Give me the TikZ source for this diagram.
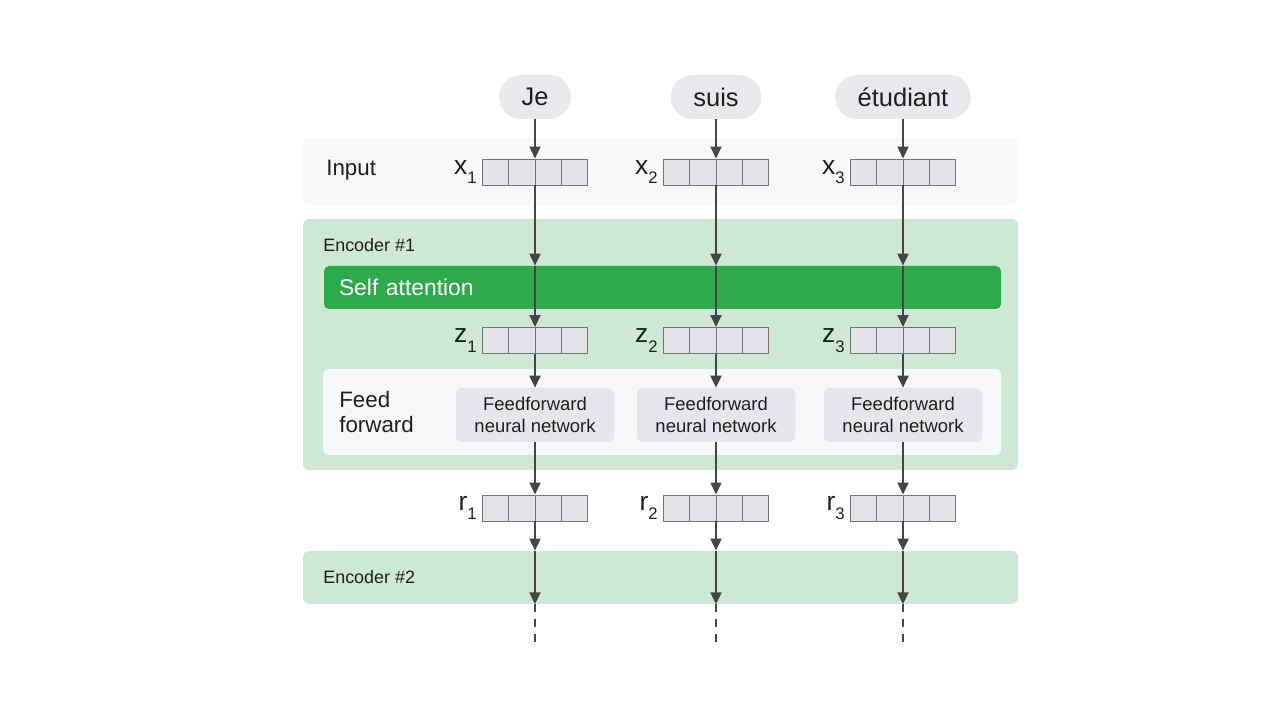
\documentclass[tikz,border=0pt]{standalone}
\usepackage{fontspec}
\setmainfont{Liberation Sans}
\usetikzlibrary{positioning,arrows.meta}

\definecolor{textdark}{HTML}{1F1F1F}
\definecolor{pillgray}{HTML}{E8E9ED}
\definecolor{inputgray}{HTML}{F8F8F9}
\definecolor{encgreen}{HTML}{CDE8D3}
\definecolor{attgreen}{HTML}{2EA94B}
\definecolor{panelwhite}{HTML}{F6F7F8}
\definecolor{ffngray}{HTML}{E5E6EA}
\definecolor{vecfill}{HTML}{E3E4E8}
\definecolor{vecline}{HTML}{747474}
\definecolor{arrowgray}{HTML}{454545}

\begin{document}
\begin{tikzpicture}[
    band/.style={rounded corners=0.12cm, minimum width=14.3cm, inner sep=0},
    pill/.style={fill=pillgray, rounded corners=0.44cm, minimum height=0.88cm,
        inner xsep=0.45cm, font=\fontsize{14.5}{17}\selectfont, text=textdark},
    vec/.style={draw=vecline, line width=0.55pt, fill=vecfill, minimum width=2.1cm,
        minimum height=0.52cm, inner sep=0,
        path picture={
            \draw[vecline, line width=0.55pt] ([xshift=-0.525cm]path picture bounding box.north)
                -- ([xshift=-0.525cm]path picture bounding box.south);
            \draw[vecline, line width=0.55pt] (path picture bounding box.north)
                -- (path picture bounding box.south);
            \draw[vecline, line width=0.55pt] ([xshift=0.525cm]path picture bounding box.north)
                -- ([xshift=0.525cm]path picture bounding box.south);
        }},
    veclabel/.style={font=\fontsize{15}{17}\selectfont, inner sep=0, text=textdark},
    sidelabel/.style={anchor=west, inner sep=0, align=left, text=textdark,
        font=\fontsize{12.7}{14.2}\selectfont},
    enclabel/.style={anchor=west, inner sep=0, text=textdark,
        font=\fontsize{10.2}{12}\selectfont},
    ffn/.style={fill=ffngray, rounded corners=0.12cm, minimum width=3.16cm,
        minimum height=1.08cm, align=center, text=textdark,
        font=\fontsize{10.5}{12.5}\selectfont},
    arr/.style={draw=arrowgray, line width=1.1pt, -{Triangle[length=2.4mm,width=2.2mm]}},
    dashline/.style={draw=arrowgray, line width=0.9pt, dash pattern=on 0.16cm off 0.14cm},
]
    \useasboundingbox (0,0) rectangle (25.6,14.4);

    % background bands
    \node[band, fill=inputgray, minimum height=1.34cm] (inputband) at (13.21, 10.97) {};
    \node[band, fill=encgreen, minimum height=5.02cm] (enc1) at (13.21, 7.51) {};
    \node[band, fill=encgreen, minimum height=1.06cm] (enc2) at (13.21, 2.85) {};

    \node[sidelabel] (inputlbl) at (6.52, 10.99) {Input};
    \node[enclabel] (enc1lbl) at (6.46, 9.50) {Encoder \#1};
    \node[enclabel] (enc2lbl) at (6.46, 2.86) {Encoder \#2};

    % self attention bar
    \node[fill=attgreen, rounded corners=0.1cm, minimum width=13.54cm, minimum height=0.86cm,
        inner xsep=0.3cm, text width=12.94cm, align=left, text=white,
        font=\fontsize{13}{15}\selectfont] (selfatt) at (13.25, 8.65) {Self attention};

    % feed forward panel
    \node[fill=panelwhite, rounded corners=0.12cm, minimum width=13.56cm,
        minimum height=1.72cm, inner sep=0] (ffpanel) at (13.24, 6.16) {};
    \node[sidelabel] (fflbl) at (6.78, 6.16) {Feed\\forward};

    % words
    \node[pill] (je) at (10.70, 12.46) {Je};
    \node[pill] (suis) at (14.32, 12.46) {suis};
    \node[pill] (etud) at (18.06, 12.46) {étudiant};

    % input vectors
    \node[vec] (x1) at (10.70, 10.96) {};
    \node[vec] (x2) at (14.32, 10.96) {};
    \node[vec] (x3) at (18.06, 10.96) {};
    \node[veclabel, left=0.1cm of x1] (x1lbl) {x\raisebox{-0.7ex}{\fontsize{9.5}{10}\selectfont 1}};
    \node[veclabel, left=0.1cm of x2] (x2lbl) {x\raisebox{-0.7ex}{\fontsize{9.5}{10}\selectfont 2}};
    \node[veclabel, left=0.1cm of x3] (x3lbl) {x\raisebox{-0.7ex}{\fontsize{9.5}{10}\selectfont 3}};

    % z vectors
    \node[vec] (z1) at (10.70, 7.59) {};
    \node[vec] (z2) at (14.32, 7.59) {};
    \node[vec] (z3) at (18.06, 7.59) {};
    \node[veclabel, left=0.1cm of z1] (z1lbl) {z\raisebox{-0.7ex}{\fontsize{9.5}{10}\selectfont 1}};
    \node[veclabel, left=0.1cm of z2] (z2lbl) {z\raisebox{-0.7ex}{\fontsize{9.5}{10}\selectfont 2}};
    \node[veclabel, left=0.1cm of z3] (z3lbl) {z\raisebox{-0.7ex}{\fontsize{9.5}{10}\selectfont 3}};

    % feedforward networks
    \node[ffn] (ffn1) at (10.70, 6.10) {Feedforward\\neural network};
    \node[ffn] (ffn2) at (14.32, 6.10) {Feedforward\\neural network};
    \node[ffn] (ffn3) at (18.06, 6.10) {Feedforward\\neural network};

    % r vectors
    \node[vec] (r1) at (10.70, 4.24) {};
    \node[vec] (r2) at (14.32, 4.24) {};
    \node[vec] (r3) at (18.06, 4.24) {};
    \node[veclabel, left=0.1cm of r1] (r1lbl) {r\raisebox{-0.7ex}{\fontsize{9.5}{10}\selectfont 1}};
    \node[veclabel, left=0.1cm of r2] (r2lbl) {r\raisebox{-0.7ex}{\fontsize{9.5}{10}\selectfont 2}};
    \node[veclabel, left=0.1cm of r3] (r3lbl) {r\raisebox{-0.7ex}{\fontsize{9.5}{10}\selectfont 3}};

    \coordinate (end1) at (10.70, 1.50);
    \coordinate (end2) at (14.32, 1.50);
    \coordinate (end3) at (18.06, 1.50);

    % arrows
    \draw[arr] (je) to (x1);
    \draw[arr] (suis) to (x2);
    \draw[arr] (etud) to (x3);

    \draw[arr] (x1.south) to (x1.south |- selfatt.north);
    \draw[arr] (x2.south) to (x2.south |- selfatt.north);
    \draw[arr] (x3.south) to (x3.south |- selfatt.north);

    \draw[arr] (z1.north |- selfatt.north) to (z1.north);
    \draw[arr] (z2.north |- selfatt.north) to (z2.north);
    \draw[arr] (z3.north |- selfatt.north) to (z3.north);

    \draw[arr] (z1) to (ffn1);
    \draw[arr] (z2) to (ffn2);
    \draw[arr] (z3) to (ffn3);

    \draw[arr] (ffn1) to (r1);
    \draw[arr] (ffn2) to (r2);
    \draw[arr] (ffn3) to (r3);

    \draw[arr] (r1.south) to (r1.south |- enc2.north);
    \draw[arr] (r2.south) to (r2.south |- enc2.north);
    \draw[arr] (r3.south) to (r3.south |- enc2.north);

    \draw[arr] (r1.south |- enc2.north) to (r1.south |- enc2.south);
    \draw[arr] (r2.south |- enc2.north) to (r2.south |- enc2.south);
    \draw[arr] (r3.south |- enc2.north) to (r3.south |- enc2.south);

    \draw[dashline] (r1.south |- enc2.south) to (end1);
    \draw[dashline] (r2.south |- enc2.south) to (end2);
    \draw[dashline] (r3.south |- enc2.south) to (end3);
\end{tikzpicture}
\end{document}
